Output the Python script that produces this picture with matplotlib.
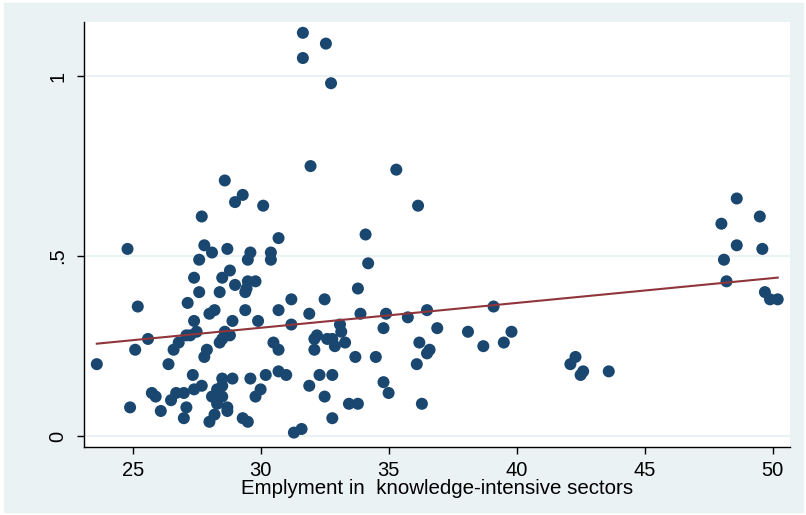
import matplotlib.pyplot as plt
from matplotlib.patches import Rectangle
import numpy as np

# employment share in knowledge-intensive sectors (x) vs outcome (y)
emp = [
    31.65, 32.55, 31.65, 32.75, 31.95, 35.3, 36.15, 34.1, 34.2, 33.8,
    28.6, 29.3, 29.0, 30.1, 27.7, 30.7, 24.8, 27.8, 28.1, 28.7,
    29.6, 30.4, 29.5, 30.4, 27.6, 28.8, 27.4, 28.5, 29.5, 29.8,
    29.0, 27.6, 28.4, 29.4, 29.45, 31.2, 32.5, 25.2, 27.15, 28.0,
    28.2, 29.4, 30.7, 31.9, 27.4, 28.9, 29.9, 31.2, 27.5, 28.6,
    28.8, 27.1, 27.25, 28.5, 28.4, 25.6, 26.8, 26.6, 25.1, 27.9,
    27.8, 30.5, 30.7, 23.6, 26.4, 27.35, 28.5, 28.9, 29.6, 30.2,
    30.7, 31.0, 27.4, 27.7, 28.5, 28.3, 30.0, 29.8, 28.1, 28.5,
    28.3, 28.7, 28.7, 26.7, 27.0, 25.75, 25.9, 26.5, 27.1, 24.9,
    26.1, 28.2, 27.0, 28.0, 29.3, 29.5, 31.3, 31.6,
    33.9, 34.9, 36.5, 39.1, 35.75, 33.1, 34.8, 36.9, 38.1, 39.8,
    33.15, 32.2, 32.1, 32.6, 32.8, 33.3, 32.9, 36.2, 32.1, 36.6,
    36.5, 39.5, 38.7, 33.7, 34.5, 36.1, 32.3, 32.8, 31.9, 34.8,
    35.0, 32.5, 33.45, 33.8, 36.3, 32.8,
    42.3, 42.1, 42.6, 42.5, 43.6,
    48.6, 49.5, 48.0, 48.6, 49.6, 48.1, 48.2, 49.7, 49.9, 50.2,
]
val = [
    1.12, 1.09, 1.05, 0.98, 0.75, 0.74, 0.64, 0.56, 0.48, 0.41,
    0.71, 0.67, 0.65, 0.64, 0.61, 0.55, 0.52, 0.53, 0.51, 0.52,
    0.51, 0.51, 0.49, 0.49, 0.49, 0.46, 0.44, 0.44, 0.43, 0.43,
    0.42, 0.40, 0.40, 0.40, 0.41, 0.38, 0.38, 0.36, 0.37, 0.34,
    0.35, 0.35, 0.35, 0.34, 0.32, 0.32, 0.32, 0.31, 0.29, 0.29,
    0.28, 0.28, 0.28, 0.27, 0.26, 0.27, 0.26, 0.24, 0.24, 0.24,
    0.22, 0.26, 0.24, 0.20, 0.20, 0.17, 0.16, 0.16, 0.16, 0.17,
    0.18, 0.17, 0.13, 0.14, 0.14, 0.13, 0.13, 0.11, 0.11, 0.11,
    0.09, 0.08, 0.07, 0.12, 0.12, 0.12, 0.11, 0.10, 0.08, 0.08,
    0.07, 0.06, 0.05, 0.04, 0.05, 0.04, 0.01, 0.02,
    0.34, 0.34, 0.35, 0.36, 0.33, 0.31, 0.30, 0.30, 0.29, 0.29,
    0.29, 0.28, 0.27, 0.27, 0.27, 0.26, 0.25, 0.26, 0.24, 0.24,
    0.23, 0.26, 0.25, 0.22, 0.22, 0.20, 0.17, 0.17, 0.14, 0.15,
    0.12, 0.11, 0.09, 0.09, 0.09, 0.05,
    0.22, 0.20, 0.18, 0.17, 0.18,
    0.66, 0.61, 0.59, 0.53, 0.52, 0.49, 0.43, 0.40, 0.38, 0.38,
]

x_ticks = [25, 30, 35, 40, 45, 50]
y_ticks = [0, 0.5, 1]
y_labels = ["0", ".5", "1"]

emp = np.array(emp)
val = np.array(val)

fig = plt.figure(figsize=(8.06, 5.15), dpi=100, facecolor="white")
plt.rcParams["font.family"] = ["Liberation Sans", "DejaVu Sans"]

# stata-ish graph region
fig.patches.append(Rectangle((4 / 806, 3 / 515), 799 / 806, 509 / 515,
                             transform=fig.transFigure, color="#EAF2F3", zorder=-1))

ax = fig.add_axes([84 / 806, 1 - 447 / 515, 706 / 806, 425 / 515])
ax.set_facecolor("white")

for t in y_ticks:
    ax.axhline(t, color="#EAF2F3", lw=1.5, zorder=0)

ax.scatter(emp, val, s=75, color="#1A476F", edgecolors="none", zorder=2)

# linear fit
b, a = np.polyfit(emp, val, 1)
xs = np.array([emp.min(), emp.max()])
ax.plot(xs, a + b * xs, color="#90353B", lw=1.5, zorder=3)

ax.set_xlim(23.1, 50.68)
ax.set_ylim(-0.03, 1.15)
ax.set_xticks(x_ticks)
ax.set_yticks(y_ticks)
ax.set_yticklabels(y_labels, rotation=90, va="center")
ax.tick_params(labelsize=14.5, length=5, width=1, color="black")
ax.tick_params(axis="x", pad=5)
ax.tick_params(axis="y", pad=7)

for s in ["top", "right"]:
    ax.spines[s].set_visible(False)
for s in ["left", "bottom"]:
    ax.spines[s].set_linewidth(1)

ax.set_xlabel("Emplyment in  knowledge-intensive sectors", fontsize=14.8, labelpad=-1)

fig.savefig("out.png", dpi=100, facecolor=fig.get_facecolor())
